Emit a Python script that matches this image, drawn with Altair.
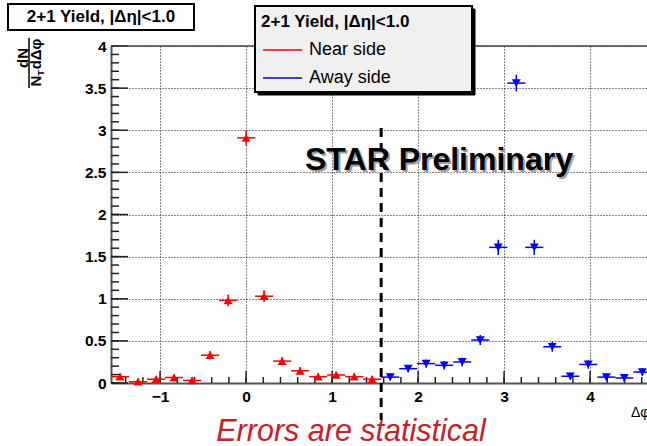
import altair as alt
import pandas as pd

# Delta-phi bin centres (30 bins over -pi/2 .. 3pi/2), near side then away side
near_dphi = [-1.466, -1.257, -1.047, -0.838, -0.628, -0.419, -0.209, 0.0,
             0.209, 0.419, 0.628, 0.838, 1.047, 1.257, 1.466]
near_yield = [0.075, 0.015, 0.045, 0.065, 0.03, 0.33, 0.98, 2.91,
              1.03, 0.26, 0.145, 0.075, 0.095, 0.075, 0.045]
near_err = [0.04, 0.04, 0.04, 0.04, 0.04, 0.05, 0.07, 0.09,
            0.07, 0.05, 0.045, 0.04, 0.04, 0.04, 0.04]

away_dphi = [1.676, 1.885, 2.094, 2.304, 2.513, 2.723, 2.932, 3.142,
             3.351, 3.560, 3.770, 3.979, 4.189, 4.398, 4.608]
away_yield = [0.07, 0.17, 0.23, 0.21, 0.25, 0.51, 1.61, 3.56,
              1.61, 0.43, 0.08, 0.22, 0.07, 0.06, 0.13]
away_err = [0.04, 0.045, 0.05, 0.05, 0.05, 0.06, 0.09, 0.10,
            0.09, 0.06, 0.04, 0.05, 0.04, 0.04, 0.045]

bin_half = 0.1047  # half of the 2*pi/30 bin width

sides = ["Near side", "Away side"]
side_colors = ["#ff0000", "#0000ff"]
side_shapes = ["triangle-up", "triangle-down"]

x_major = [-1, 0, 1, 2, 3, 4]
x_minor = [round(-1.4 + 0.2 * i, 1) for i in range(31)]
y_major = [0, 0.5, 1, 1.5, 2, 2.5, 3, 3.5, 4]
y_minor = [round(0.1 * i, 1) for i in range(41)]

FONT = "Liberation Sans"
W, H = 536, 337

rows = []
for side, xs, ys, es in [("Near side", near_dphi, near_yield, near_err),
                         ("Away side", away_dphi, away_yield, away_err)]:
    for x, y, e in zip(xs, ys, es):
        rows.append({"dphi": x, "yld": y, "side": side,
                     "xlo": x - bin_half, "xhi": x + bin_half,
                     "ylo": y - e, "yhi": y + e})
df = pd.DataFrame(rows)

xscale = alt.Scale(domain=[-1.5708, 4.6618], nice=False, zero=False)
yscale = alt.Scale(domain=[0, 4], nice=False, zero=False)
xaxis = alt.Axis(values=x_major, format="~g", title=None, grid=True,
                 gridDash=[1, 2], gridColor="#111", gridWidth=1,
                 ticks=False, labelPadding=6, labelFont=FONT, labelFontSize=15.5,
                 labelFontWeight="bold", labelColor="#000",
                 domainColor="#555", domainWidth=2)
yaxis = alt.Axis(values=y_major, format="~g", title=None, grid=True,
                 gridDash=[1, 2], gridColor="#111", gridWidth=1,
                 ticks=False, labelPadding=5, labelFont=FONT, labelFontSize=15.5,
                 labelFontWeight="bold", labelColor="#000",
                 domainColor="#555", domainWidth=2)


def X(field):
    return alt.X(field, type="quantitative", scale=xscale, axis=xaxis)


def Y(field):
    return alt.Y(field, type="quantitative", scale=yscale, axis=yaxis)


color = alt.Color("side:N", scale=alt.Scale(domain=sides, range=side_colors), legend=None)
shape = alt.Shape("side:N", scale=alt.Scale(domain=sides, range=side_shapes), legend=None)

base = alt.Chart(df)

hbars = base.mark_rule(strokeWidth=1.5).encode(x=X("xlo"), x2="xhi", y=Y("yld"), color=color)
vbars = base.mark_rule(strokeWidth=1.5).encode(x=X("dphi"), y=Y("ylo"), y2="yhi", color=color)
points = base.mark_point(filled=True, size=80, opacity=1).encode(
    x=X("dphi"), y=Y("yld"), color=color, shape=shape)

# inward tick marks
ymaj = alt.Chart(pd.DataFrame({"v": y_major})).mark_rule(color="#222", strokeWidth=1.5).encode(
    y=Y("v"), x=alt.value(0), x2=alt.value(17))
ymin = alt.Chart(pd.DataFrame({"v": y_minor})).mark_rule(color="#222", strokeWidth=1.5).encode(
    y=Y("v"), x=alt.value(0), x2=alt.value(8))
xmaj = alt.Chart(pd.DataFrame({"v": x_major})).mark_rule(color="#222", strokeWidth=1.5).encode(
    x=X("v"), y=alt.value(H), y2=alt.value(H - 12))
xmin = alt.Chart(pd.DataFrame({"v": x_minor})).mark_rule(color="#222", strokeWidth=1.5).encode(
    x=X("v"), y=alt.value(H), y2=alt.value(H - 6))

one = pd.DataFrame({"a": [0]})
top_frame = alt.Chart(one).mark_rule(color="#444", strokeWidth=1.5).encode(
    x=alt.value(0), x2=alt.value(W), y=alt.value(0))

# separator between near and away side at dphi = pi/2
divider = alt.Chart(pd.DataFrame({"v": [1.5708]})).mark_rule(
    color="#000", strokeWidth=3, strokeDash=[9, 6]).encode(
    x=X("v"), y=alt.value(82), y2=alt.value(374))


def label(txt, x, y, size, weight="normal", color="#000", align="left",
          baseline="middle", angle=0, style="normal"):
    return alt.Chart(one).mark_text(
        text=txt, font=FONT, fontSize=size, fontWeight=weight, color=color,
        align=align, baseline=baseline, angle=angle, fontStyle=style
    ).encode(x=alt.value(x), y=alt.value(y))


def box(x1, y1, x2, y2, fill, stroke, sw):
    return alt.Chart(one).mark_rect(fill=fill, stroke=stroke, strokeWidth=sw).encode(
        x=alt.value(x1), x2=alt.value(x2), y=alt.value(y1), y2=alt.value(y2))


def seg(x1, x2, y, col):
    return alt.Chart(one).mark_rule(color=col, strokeWidth=1.5).encode(
        x=alt.value(x1), x2=alt.value(x2), y=alt.value(y))


title_box = box(-103, -42, 83, -16, "#fff", "#000", 2)
title_txt = label("2+1 Yield, |Δη|<1.0", -10, -29, 17, weight="bold", align="center")

legend_shadow = box(147, -37, 364, 49, "#000", "#000", 1)
legend_box = box(144, -40, 361, 46, "#f0f0f0", "#000", 2)
legend_head = label("2+1 Yield, |Δη|<1.0", 150, -24, 17, weight="bold")
legend_red = seg(152, 191, 4, "#ff0000")
legend_near = label("Near side", 198, 4, 18)
legend_blue = seg(152, 191, 32, "#0000ff")
legend_away = label("Away side", 198, 32, 18)

# drop shadow is drawn as a separate grey copy behind the title
star_shadow = label("STAR Preliminary", 196, 126, 32, weight="bold", color="#a0a0a0",
                    baseline="alphabetic")
star_text = label("STAR Preliminary", 194, 124, 32, weight="bold", baseline="alphabetic")

errors_txt = label("Errors are statistical", 240, 395, 30.5, color="#c8202a", align="center",
                   baseline="alphabetic", style="italic")

x_title = label("Δφ", 520, 367, 14)

# y-axis title: dN / (N_T dΔφ), rotated
yt_num = label("dN", -88, 12, 15, weight="bold", align="center", angle=270)
yt_bar = alt.Chart(one).mark_rule(color="#000", strokeWidth=1.5).encode(
    x=alt.value(-82), y=alt.value(-8), y2=alt.value(42))
yt_den = label("dΔφ", -75, 8, 15, weight="bold", align="center", angle=270)
yt_n = label("N", -75, 35, 15, weight="bold", align="center", angle=270)
yt_t = label("T", -70, 27, 9, weight="bold", align="center", angle=270)

chart = alt.layer(
    ymin, ymaj, xmin, xmaj, top_frame, divider,
    hbars, vbars, points,
    star_shadow, star_text,
    title_box, title_txt,
    legend_shadow, legend_box, legend_head, legend_red, legend_near, legend_blue, legend_away,
    errors_txt, x_title,
    yt_num, yt_bar, yt_den, yt_n, yt_t,
).properties(
    width=W, height=H,
    padding={"left": 111, "top": 46, "right": 0, "bottom": 63},
    autosize=alt.AutoSizeParams(type="none"),
    background="#ffffff",
).configure_view(stroke=None)

chart.save("out.html", embed_options={"renderer": "svg", "actions": False})
